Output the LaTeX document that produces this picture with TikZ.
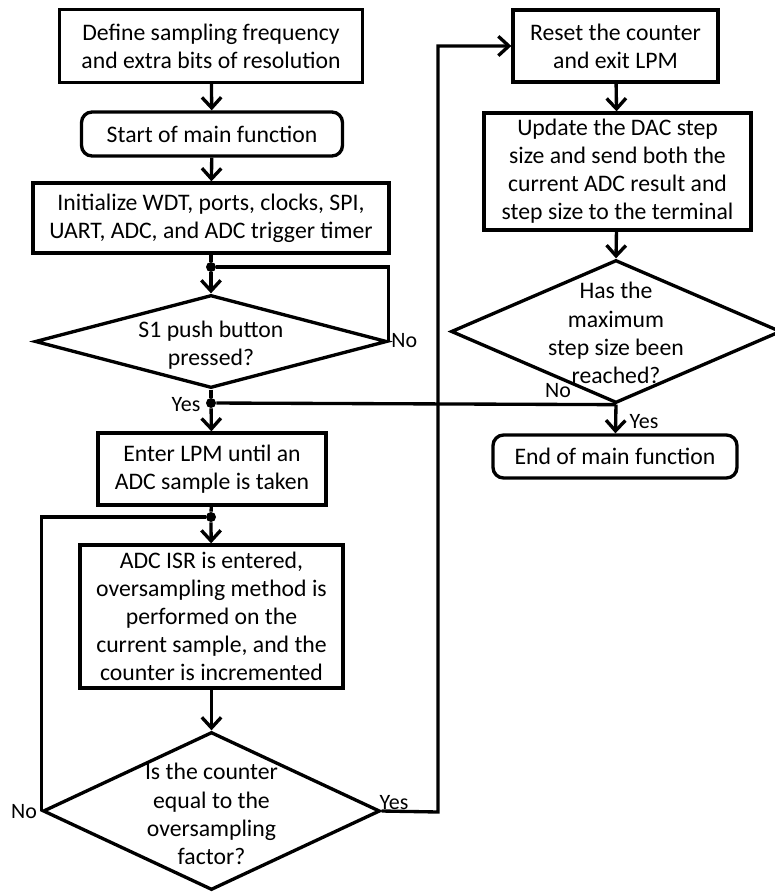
\documentclass[tikz,border=0pt]{standalone}
\usepackage{fontspec}
\setmainfont{Carlito}
\usepackage{tikz}
\usetikzlibrary{
  shapes.geometric, % Decision diamonds
  arrows.meta       % Barbed arrow heads
}

\begin{document}
\begin{tikzpicture}[x=0.02cm, y=-0.02cm,
    font=\fontsize{13.5}{16}\selectfont,
    line/.style={line width=1.9pt},
    flow/.style={line, -{Straight Barb[length=6pt,width=11pt]}},
    procbox/.style={draw, line width=1.9pt, align=center, inner sep=2pt},
    roundbox/.style={procbox, rounded corners=6pt},
    decision/.style={draw, diamond, line width=1.9pt, inner sep=0pt},
    question/.style={align=center, inner sep=0pt},
    junction/.style={circle, fill, inner sep=0pt, minimum size=0.2cm},
    answer/.style={inner sep=0pt, font=\fontsize{12.5}{14}\selectfont}
]

    % Page frame
    \useasboundingbox (0,0) rectangle (774,892);

    % Left column
    \node[procbox, minimum width=6.06cm, minimum height=1.46cm] (define) at (211,46)
        {Define sampling frequency\\and extra bits of resolution};
    \node[roundbox, minimum width=5.22cm, minimum height=0.88cm] (start) at (212,134)
        {Start of main function};
    \node[procbox, minimum width=7.12cm, minimum height=1.4cm] (init) at (211,218)
        {Initialize WDT, ports, clocks, SPI,\\UART, ADC, and ADC trigger timer};
    \node[junction] (wait) at (211,267) {};

    % Push button test
    \node[decision, minimum width=7.04cm, minimum height=1.86cm] (button) at (211,341.5) {};
    \node[question] (buttontext) at (211,345) {S1 push button\\pressed?};
    \node[junction] (pressed) at (211,403) {};

    \node[procbox, minimum width=4.56cm, minimum height=1.44cm] (lpm) at (212,469)
        {Enter LPM until an\\ADC sample is taken};
    \node[junction] (sample) at (211,517) {};
    \node[procbox, minimum width=5.26cm, minimum height=2.86cm] (isr) at (211.5,616.5)
        {ADC ISR is entered,\\oversampling method is\\performed on the\\current sample, and the\\counter is incremented};

    % Counter test
    \node[decision, minimum width=6.74cm, minimum height=3.16cm] (factor) at (211.5,811) {};
    \node[question] (factortext) at (211.5,814)
        {Is the counter\\equal to the\\oversampling\\factor?};
    \coordinate (yesturn) at (438,812);

    % Right column
    \node[procbox, minimum width=4.1cm, minimum height=1.44cm] (reset) at (615.5,46)
        {Reset the counter\\and exit LPM};
    \node[procbox, minimum width=5.34cm, minimum height=2.34cm] (update) at (617.5,171.5)
        {Update the DAC step\\size and send both the\\current ADC result and\\step size to the terminal};
    \node[decision, minimum width=6.6cm, minimum height=2.86cm] (maxstep) at (616,331.5) {};
    \node[question] (maxsteptext) at (616,333)
        {Has the\\maximum\\step size been\\reached?};
    \node[roundbox, minimum width=4.88cm, minimum height=0.86cm] (finish) at (615,456.5)
        {End of main function};

    % Connectors
    \draw[flow] (define) -- (start);
    \draw[flow] (start) -- (init);
    \draw[line] (init) -- (wait);
    \draw[flow] (wait) -- (button.north);
    \draw[line] (button.east) |- (wait);
    \draw[line] (button.south) -- (pressed);
    \draw[flow] (pressed) -- (lpm);
    \draw[line] (lpm) -- (sample);
    \draw[flow] (sample) -- (isr);
    \draw[flow] (isr) -- (factor.north);
    \draw[line] (factor.west) |- (sample);
    \draw[flow] (factor.east) -- (yesturn) |- (reset.west);
    \draw[flow] (reset) -- (update);
    \draw[flow] (update) -- (maxstep.north);
    \draw[line] (maxstep.south) -- (pressed);
    \draw[flow] (maxstep.south) -- (finish);

    % Branch labels
    \node[answer, anchor=west] (nobutton) at (391,341) {No};
    \node[answer] (yesbutton) at (186,405) {Yes};
    \node[answer] (nomax) at (558,391) {No};
    \node[answer] (yesmax) at (644,422) {Yes};
    \node[answer] (nofactor) at (24,812) {No};
    \node[answer] (yesfactor) at (394,803) {Yes};
\end{tikzpicture}
\end{document}
